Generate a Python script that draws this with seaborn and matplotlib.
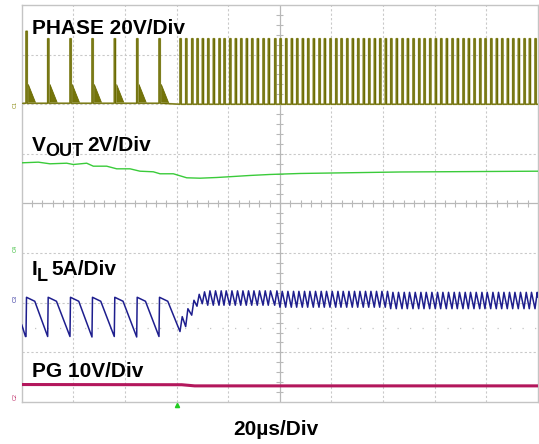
import numpy as np
import pandas as pd
import matplotlib
matplotlib.use("Agg")
import matplotlib.pyplot as plt
import seaborn as sns

# ---------------- data (units: divisions; x 0..10, y -4..4) ----------------
PHASE_LOW = 2.02
PHASE_HIGH = 3.32
PHASE_SPARSE_T = [0.083, 0.503, 0.935, 1.361, 1.793, 2.227, 2.659]
PHASE_SPARSE_TOP = [3.47, 3.32, 3.32, 3.32, 3.32, 3.32, 3.32]
PHASE_DENSE_T = [3.066, 3.176, 3.293, 3.395, 3.498, 3.603, 3.711, 3.821, 3.918, 4.029,
                 4.137, 4.242, 4.350, 4.455, 4.563, 4.674, 4.776, 4.900, 5.003, 5.113,
                 5.222, 5.326, 5.435, 5.539, 5.648, 5.758, 5.861, 5.971, 6.082, 6.184,
                 6.295, 6.403, 6.508, 6.616, 6.721, 6.829, 6.934, 7.042, 7.147, 7.255,
                 7.366, 7.469, 7.579, 7.689, 7.792, 7.902, 8.011, 8.115, 8.224, 8.334,
                 8.437, 8.547, 8.650, 8.760, 8.871, 8.973, 9.084, 9.192, 9.297, 9.405,
                 9.510, 9.618, 9.729, 9.831, 9.942]
RING_TOP = 2.40

VOUT_T = [0, 0.322, 0.548, 0.871, 1.000, 1.259, 1.387, 1.646, 1.840, 2.098, 2.291, 2.549,
          2.679, 2.937, 3.196, 3.454, 3.777, 4.098, 4.422, 4.809, 5.39, 7.33, 10]
VOUT_V = [0.820, 0.833, 0.800, 0.812, 0.786, 0.812, 0.752, 0.752, 0.699, 0.699, 0.651, 0.639,
          0.599, 0.599, 0.518, 0.510, 0.524, 0.544, 0.565, 0.585, 0.605, 0.635, 0.651]

IL_START = -2.44
IL_SAW_TOP = -1.89
IL_SAW_KNEE = -1.97
IL_SAW_VALLEY = [-2.68, -2.68, -2.68, -2.69, -2.68, -2.69, -2.68]
IL_DENSE_VALLEY = [-2.58, -2.48, -2.25, -2.07, -2.02,
                   -2.05, -2.05, -2.05, -2.05, -2.05, -2.05, -2.05, -2.05, -2.05, -2.05,
                   -2.05, -2.05, -2.05,
                   -2.09, -2.09, -2.09, -2.09, -2.09, -2.09, -2.09, -2.09, -2.09, -2.09,
                   -2.09, -2.09, -2.09, -2.09, -2.09, -2.09, -2.09, -2.09, -2.09, -2.09,
                   -2.12, -2.12, -2.12, -2.12, -2.12, -2.12, -2.12, -2.12, -2.12, -2.12,
                   -2.12, -2.12, -2.12, -2.12, -2.12, -2.12, -2.12, -2.12, -2.12, -2.12,
                   -2.12, -2.12, -2.12, -2.12, -2.12, -2.12, -2.12]
IL_DENSE_PEAK = [-2.28, -2.12, -1.95, -1.83, -1.78,
                 -1.76, -1.76, -1.76, -1.76, -1.76, -1.76, -1.76, -1.76, -1.76, -1.76,
                 -1.76, -1.76, -1.76,
                 -1.77, -1.77, -1.77, -1.77, -1.77, -1.77, -1.77, -1.77, -1.77, -1.77,
                 -1.77, -1.77, -1.77, -1.77, -1.77, -1.77, -1.77, -1.77, -1.77, -1.77,
                 -1.79, -1.79, -1.79, -1.79, -1.79, -1.79, -1.79, -1.79, -1.79, -1.79,
                 -1.79, -1.79, -1.79, -1.79, -1.79, -1.79, -1.79, -1.79, -1.79, -1.79,
                 -1.79, -1.79, -1.79, -1.79, -1.79, -1.79, -1.79]

PG_T = [0, 3.1, 3.35, 10]
PG_V = [-3.648, -3.652, -3.675, -3.675]

LABELS = ["PHASE 20V/Div", "V", "OUT", "2V/Div", "I", "L", "5A/Div", "PG 10V/Div", "20\u00b5s/Div"]

# ---------------- build traces ----------------
W_PULSE = 0.024
ph_x, ph_y = [0.0], [PHASE_LOW]
for t, top in zip(PHASE_SPARSE_T, PHASE_SPARSE_TOP):
    ph_x += [t, t, t + W_PULSE, t + W_PULSE]
    ph_y += [PHASE_LOW, top, top, PHASE_LOW]
for t in PHASE_DENSE_T:
    ph_x += [t, t, t + W_PULSE, t + W_PULSE]
    ph_y += [PHASE_LOW - 0.02, PHASE_HIGH, PHASE_HIGH, PHASE_LOW - 0.02]
ph_x.append(10.0); ph_y.append(PHASE_LOW - 0.02)
phase = pd.DataFrame({"t": ph_x, "v": ph_y})

il_x, il_y = [0.0], [IL_START]
il_x.append(PHASE_SPARSE_T[0] - 0.01); il_y.append(IL_SAW_VALLEY[0])
for i, t in enumerate(PHASE_SPARSE_T):
    il_x += [t, t + 0.01, t + 0.17]
    il_y += [IL_SAW_VALLEY[i], IL_SAW_TOP, IL_SAW_KNEE]
for i, t in enumerate(PHASE_DENSE_T):
    il_x += [t, t + 0.043]
    il_y += [IL_DENSE_VALLEY[i], IL_DENSE_PEAK[i]]
il_x.append(10.0); il_y.append(IL_DENSE_PEAK[-1] - 0.1)
il = pd.DataFrame({"t": il_x, "v": il_y})

vout = pd.DataFrame({"t": VOUT_T, "v": VOUT_V})
pg = pd.DataFrame({"t": PG_T, "v": PG_V})

# ---------------- figure ----------------
sns.set_style("white")
plt.rcParams["font.family"] = ["Liberation Sans", "DejaVu Sans"]

W, H = 539, 444
fig = plt.figure(figsize=(W / 100, H / 100), dpi=100)
ax = fig.add_axes([21.7 / W, 42 / H, 516.3 / W, 397 / H])
ax.set_xlim(0, 10)
ax.set_ylim(-4, 4)
ax.set_xticks([]); ax.set_yticks([])
for s in ax.spines.values():
    s.set_color("#c4c4c4"); s.set_linewidth(1.0)

grid_c = "#c9c9c9"
for gx in range(1, 10):
    if gx != 5:
        ax.axvline(gx, color=grid_c, lw=0.8, ls=(0, (2, 2)), zorder=0)
for gy in range(-3, 4):
    if gy != 0:
        ax.axhline(gy, color=grid_c, lw=0.8, ls=(0, (2, 2)), zorder=0)
ax.axhline(-2.5, color="#c4c4c4", lw=0.9, ls=(0, (1, 9)), zorder=0)
ax.axvline(5, color="#b8b8b8", lw=0.9, zorder=0)
ax.axhline(0, color="#b8b8b8", lw=0.9, zorder=0)
minor_x = np.arange(0.2, 10, 0.2)
ax.vlines(minor_x, -0.07, 0.07, color="#b8b8b8", lw=0.8, zorder=0)
minor_y = np.arange(-3.8, 4, 0.2)
ax.hlines(minor_y, 5 - 0.07, 5 + 0.07, color="#b8b8b8", lw=0.8, zorder=0)

olive_dark = "#6a6a00"
olive_light = "#b8b878"
# ringing after each DCM pulse
for t in PHASE_SPARSE_T:
    ax.fill([t + 0.045, t + 0.045, t + 0.19], [PHASE_LOW, RING_TOP, PHASE_LOW],
            color="#74740a", lw=0.6, ec="#6a6a00", zorder=2)

sns.lineplot(data=phase, x="t", y="v", sort=False, estimator=None, ax=ax,
             color=olive_light, lw=1.3, zorder=2)
sns.lineplot(data=phase, x="t", y="v", sort=False, estimator=None, ax=ax,
             color=olive_dark, lw=0.75, zorder=3)
sns.lineplot(data=vout, x="t", y="v", sort=False, estimator=None, ax=ax,
             color="#3acb3a", lw=1.0, zorder=3)
sns.lineplot(data=il, x="t", y="v", sort=False, estimator=None, ax=ax,
             color="#1e1e8e", lw=1.1, zorder=3)
sns.lineplot(data=pg, x="t", y="v", sort=False, estimator=None, ax=ax,
             color="#b3175c", lw=2.2, zorder=3)
ax.set_xlabel(""); ax.set_ylabel("")
ax.set_xlim(0, 10); ax.set_ylim(-4, 4)

# trigger marker
ax.plot([3.0], [-4.06], marker="^", ms=3, color="#22cc22", clip_on=False, zorder=5)

# ---------------- texts ----------------
def ftext(x, y, s, size=15, **kw):
    fig.text(x / W, 1 - y / H, s, fontsize=size, fontweight="bold",
             va="baseline", ha=kw.pop("ha", "left"), color=kw.pop("color", "black"), **kw)

ftext(31.7, 33.5, LABELS[0])
ftext(31.7, 150.7, LABELS[1])
ftext(45.0, 155.5, LABELS[2], size=13)
ftext(87.3, 150.7, LABELS[3])
ftext(31.7, 275.0, LABELS[4])
ftext(37.0, 280.5, LABELS[5], size=13)
ftext(51.7, 275.0, LABELS[6])
ftext(31.7, 377.3, LABELS[7])
ftext(275.8, 435.0, LABELS[8], ha="center")

# channel markers
for lab, yy, col in [("C1", 104, "#8a8a10"), ("C4", 248, "#33bb33"),
                     ("C3", 299, "#2a2a9a"), ("C2", 397, "#c0306a")]:
    fig.text(15 / W, 1 - yy / H, lab, fontsize=4, rotation=90, color=col,
             ha="center", va="center")

fig.savefig("out.png", dpi=100)
